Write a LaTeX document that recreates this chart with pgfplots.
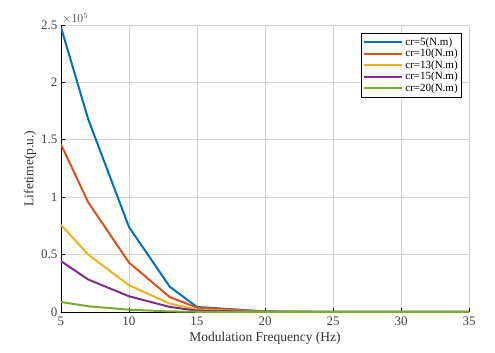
\documentclass[border=0pt]{standalone}
\usepackage{pgfplots}
\pgfplotsset{compat=1.18}
\usepackage{fontspec}
\setmainfont{Liberation Serif}
\definecolor{mblue}{rgb}{0,0.447,0.741}
\definecolor{morange}{rgb}{0.85,0.325,0.098}
\definecolor{myellow}{rgb}{0.929,0.694,0.125}
\definecolor{mpurple}{rgb}{0.494,0.184,0.556}
\definecolor{mgreen}{rgb}{0.466,0.674,0.188}
\begin{document}
\begin{tikzpicture}
\begin{axis}[
  scale only axis,
  width=408pt, height=287pt,
  xmin=5, xmax=35, ymin=0, ymax=250000,
  xtick={5,10,15,20,25,30,35},
  ytick={0,50000,100000,150000,200000,250000},
  scaled y ticks=manual:{$\times10^{5}$}{\pgfmathparse{#1/100000}},
  every y tick scale label/.style={at={(rel axis cs:0,1)},anchor=south west,inner sep=1pt,font=\fontsize{12}{13}\selectfont,text=black!75},
  /pgf/number format/assume math mode=true,
  yticklabel style={/pgf/number format/fixed},
  axis lines*=left,
  axis line style={black, line width=0.7pt},
  tick style={black, line width=0.7pt},
  tick align=inside,
  major tick length=4pt,
  grid=major,
  grid style={gray!35, line width=0.7pt},
  ticklabel style={font=\fontsize{13}{15}\selectfont, text=black!75},
  xticklabel style={yshift=-1pt},
  xlabel={Modulation Frequency (Hz)},
  ylabel={Lifetime(p.u.)},
  label style={font=\fontsize{13.5}{15}\selectfont, text=black!80},
  xlabel style={yshift=0pt},
  ylabel style={yshift=-2pt},
  legend style={at={(rel axis cs:0.983,0.972)}, anchor=north east, draw=black, line width=0.7pt, font=\fontsize{11}{12}\selectfont, inner sep=2pt, row sep=-1.5pt, cells={anchor=west}},
  legend cell align=left,
  legend image code/.code={\draw[#1, line width=2pt] (0cm,0cm) -- (1.35cm,0cm);},
  every axis plot/.append style={line width=2pt},
]
\addplot[mblue] coordinates {(5,248000) (7,168000) (10,74000) (13,22000) (15,4400) (20,500) (25,100) (30,50) (35,20)};
\addplot[morange] coordinates {(5,146000) (7,95600) (10,43000) (13,13000) (15,3800) (20,300) (25,80) (30,40) (35,20)};
\addplot[myellow] coordinates {(5,76000) (7,50000) (10,23300) (13,7300) (15,2000) (20,200) (25,60) (30,30) (35,10)};
\addplot[mpurple] coordinates {(5,44300) (7,28300) (10,13700) (13,4400) (15,1200) (20,100) (25,40) (30,20) (35,10)};
\addplot[mgreen] coordinates {(5,8700) (7,5000) (10,2000) (13,500) (15,200) (20,50) (25,20) (30,10) (35,5)};
\legend{cr=5(N.m),cr=10(N.m),cr=13(N.m),cr=15(N.m),cr=20(N.m)}
\end{axis}
\path (current axis.south west) ++(-61pt,-41pt) coordinate (bbA);
\path (current axis.north east) ++(26pt,25pt) coordinate (bbB);
\path (bbA) rectangle (bbB);
\end{tikzpicture}
\end{document}
